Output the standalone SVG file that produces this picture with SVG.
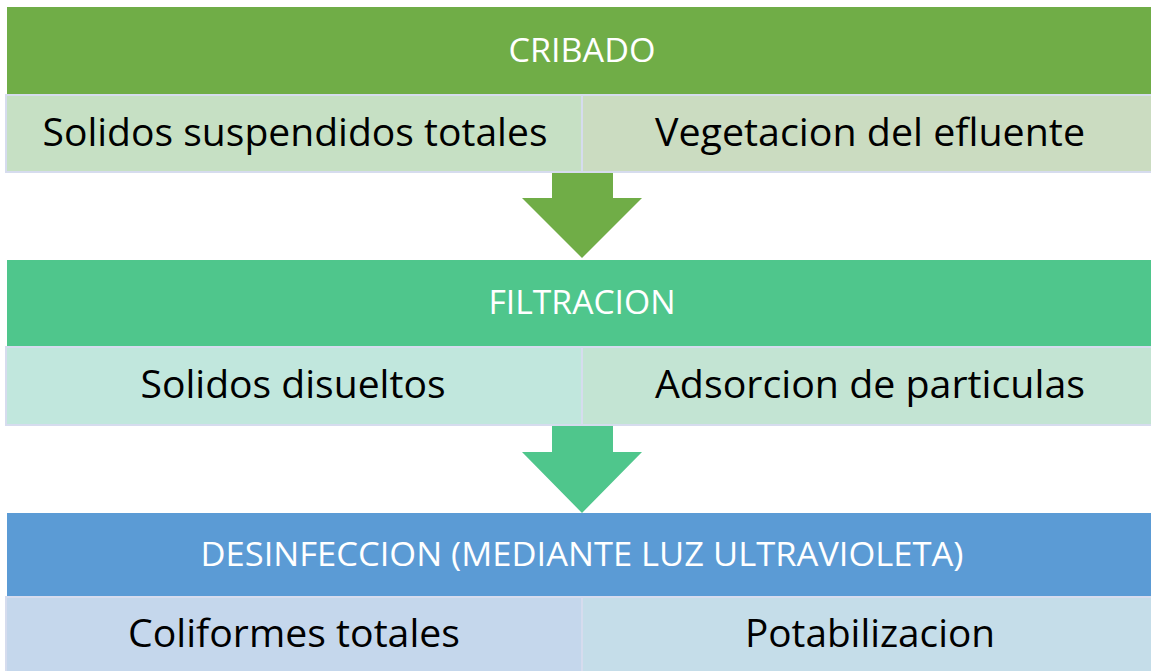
<svg xmlns="http://www.w3.org/2000/svg" width="1151" height="671" viewBox="0 0 1151 671">
<style>
.hd{font-family:"Open Sans","Liberation Sans",sans-serif;font-size:32px;fill:#ffffff;text-anchor:middle}
.sb{font-family:"Open Sans","Liberation Sans",sans-serif;font-size:39px;fill:#000000;text-anchor:middle}
.cell{stroke:#d6dcee;stroke-width:2}
</style>
<rect width="1151" height="671" fill="#ffffff"/>
<g id="connectors">
<polygon points="552,173 613,173 613,198 642,198 582,258 522,198 552,198" fill="#70ad47"/>
<polygon points="552,425 613,425 613,452 642,452 582,513 522,452 552,452" fill="#4fc68c"/>
</g>
<g id="cribado">
<rect x="7" y="7" width="1145" height="88" fill="#70ad47"/>
<text class="hd" x="582" y="62" textLength="147" lengthAdjust="spacingAndGlyphs">CRIBADO</text>
</g>
<g id="cribado-a">
<rect class="cell" x="6" y="95" width="576" height="77" fill="#c6e0c4"/>
<text class="sb" x="295" y="146" textLength="505" lengthAdjust="spacingAndGlyphs">Solidos suspendidos totales</text>
</g>
<g id="cribado-b">
<rect class="cell" x="582" y="95" width="570" height="77" fill="#cbdcc1"/>
<text class="sb" x="870" y="146" textLength="430" lengthAdjust="spacingAndGlyphs">Vegetacion del efluente</text>
</g>
<g id="filtracion">
<rect x="7" y="260" width="1145" height="87" fill="#4fc68c"/>
<text class="hd" x="582" y="314" textLength="187" lengthAdjust="spacingAndGlyphs">FILTRACION</text>
</g>
<g id="filtracion-a">
<rect class="cell" x="6" y="347" width="576" height="78" fill="#c1e7dd"/>
<text class="sb" x="293" y="398" textLength="305" lengthAdjust="spacingAndGlyphs">Solidos disueltos</text>
</g>
<g id="filtracion-b">
<rect class="cell" x="582" y="347" width="570" height="78" fill="#c3e4d3"/>
<text class="sb" x="870" y="398" textLength="430" lengthAdjust="spacingAndGlyphs">Adsorcion de particulas</text>
</g>
<g id="desinfeccion">
<rect x="7" y="513" width="1145" height="84" fill="#5b9bd5"/>
<text class="hd" x="582" y="566" textLength="763" lengthAdjust="spacingAndGlyphs">DESINFECCION (MEDIANTE LUZ ULTRAVIOLETA)</text>
</g>
<g id="desinfeccion-a">
<rect class="cell" x="6" y="597" width="576" height="80" fill="#c5d7ec"/>
<text class="sb" x="294" y="647" textLength="332" lengthAdjust="spacingAndGlyphs">Coliformes totales</text>
</g>
<g id="desinfeccion-b">
<rect class="cell" x="582" y="597" width="570" height="80" fill="#c5dde9"/>
<text class="sb" x="870" y="647" textLength="250" lengthAdjust="spacingAndGlyphs">Potabilizacion</text>
</g>
</svg>
